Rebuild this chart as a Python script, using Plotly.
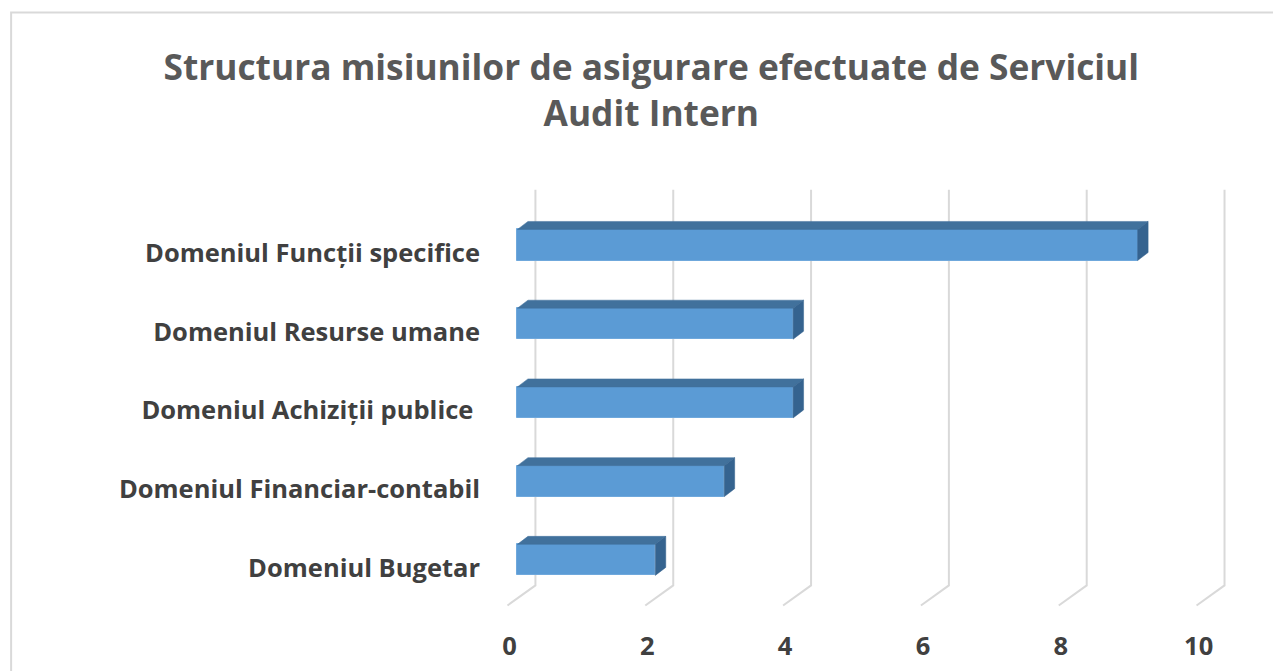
import plotly.graph_objects as go

# ---- data ----
categories = [
    "Domeniul Bugetar",
    "Domeniul Financiar-contabil",
    "Domeniul Achiziții publice\u00a0",
    "Domeniul Resurse umane",
    "Domeniul Funcții specifice",
]
values = [2, 3, 4, 4, 9]
x_ticks = [0, 2, 4, 6, 8, 10]
title_text = "Structura misiunilor de asigurare efectuate de Serviciul<br>Audit Intern"

# ---- geometry (pixel based layout helpers; page body adds an 8px offset) ----
OFF = 8
W, H = 1281 - OFF, 671 - OFF
PX0, PXU = 517.0, 69.0      # screen pixel of value 0 (bar front) and pixels per unit
PY0, PYU = 559.5, 78.6      # screen pixel of bottom category centre and pixels per category
XR = [-0.5, 10.5]
YR = [-0.7, 4.8]
left = PX0 - OFF + PXU * XR[0]
right = W - (PX0 - OFF + PXU * XR[1])
top = PY0 - OFF - PYU * YR[1]
bottom = H - (PY0 - OFF - PYU * YR[0])
PW = W - left - right
PH = H - top - bottom

def uy(py):  # screen pixel -> y data
    return (PY0 - py) / PYU

def paper_x(px):  # screen pixel -> paper x
    return (px - OFF - left) / PW

def paper_y(py):  # screen pixel -> paper y
    return (H - bottom - (py - OFF)) / PH

DX = 10.5 / PXU        # depth offset in x units
DY = 8 / PYU           # depth offset in y units
HALF = 15.5 / PYU      # half height of bar front face
BACK = 18 / PXU        # back wall offset relative to bar front
FRONT = -10 / PXU      # floor front offset relative to bar front
G_TOP = uy(190)
G_CORNER = uy(585)
G_FRONT = uy(605)
LABEL_SHIFT = -8 / PYU

FRONT_C = "#5B9BD5"
TOP_C = "#41719C"
SIDE_C = "#35638F"
GRID_C = "#D9D9D9"

fig = go.Figure()

ys = list(range(len(categories)))

# front faces
fig.add_trace(go.Bar(x=values, y=ys, orientation="h", width=2 * HALF,
                     marker=dict(color=FRONT_C, line=dict(color="#6FA8DC", width=1)),
                     showlegend=False, hovertext=categories, hoverinfo="text+x"))

# top and side faces
for v, i in zip(values, ys):
    fig.add_trace(go.Scatter(
        x=[0, v, v + DX, DX, 0],
        y=[i + HALF, i + HALF, i + HALF + DY, i + HALF + DY, i + HALF],
        mode="lines", fill="toself", fillcolor=TOP_C,
        line=dict(color=TOP_C, width=0.5), hoverinfo="skip", showlegend=False))
    fig.add_trace(go.Scatter(
        x=[v, v + DX, v + DX, v, v],
        y=[i - HALF, i - HALF + DY, i + HALF + DY, i + HALF, i - HALF],
        mode="lines", fill="toself", fillcolor=SIDE_C,
        line=dict(color=SIDE_C, width=0.5), hoverinfo="skip", showlegend=False))

# gridlines with 3D floor, drawn beneath the bars
shapes = []
for t in x_ticks:
    shapes.append(dict(
        type="path", xref="x", yref="y", layer="below",
        path="M %f %f L %f %f L %f %f" % (t + BACK, G_TOP, t + BACK, G_CORNER,
                                         t + FRONT, G_FRONT),
        line=dict(color=GRID_C, width=2)))
shapes.append(dict(type="rect", xref="paper", yref="paper",
                   x0=paper_x(10), x1=paper_x(1278), y0=paper_y(13), y1=paper_y(700),
                   line=dict(color="#D9D9D9", width=2), fillcolor="rgba(0,0,0,0)",
                   layer="below"))

label_font = dict(family="Open Sans", size=25.5, color="#404040")

fig.update_layout(
    width=W, height=H,
    margin=dict(l=left, r=right, t=top, b=bottom, autoexpand=False),
    paper_bgcolor="white", plot_bgcolor="white",
    title=dict(text="<b>" + title_text + "</b>",
               font=dict(family="Open Sans", size=35.3, color="#595959"),
               x=paper_x(651), xref="paper", xanchor="center",
               y=1 - 72 / H, yref="container", yanchor="top"),
    xaxis=dict(range=XR, showgrid=False, zeroline=False, showline=False,
               tickvals=[t + FRONT + 0.03 for t in x_ticks],
               ticktext=["<b>%d</b>" % t for t in x_ticks],
               tickfont=label_font, ticks="", ticklabelstandoff=13,
               automargin=False, fixedrange=True),
    yaxis=dict(range=YR, showgrid=False, zeroline=False, showline=False,
               tickvals=[i + LABEL_SHIFT for i in ys],
               ticktext=["<b>%s</b>" % c for c in categories],
               tickfont=label_font, ticks="", ticklabelstandoff=2,
               automargin=False, fixedrange=True),
    shapes=shapes,
    bargap=0,
)

fig.write_html("out.html")
